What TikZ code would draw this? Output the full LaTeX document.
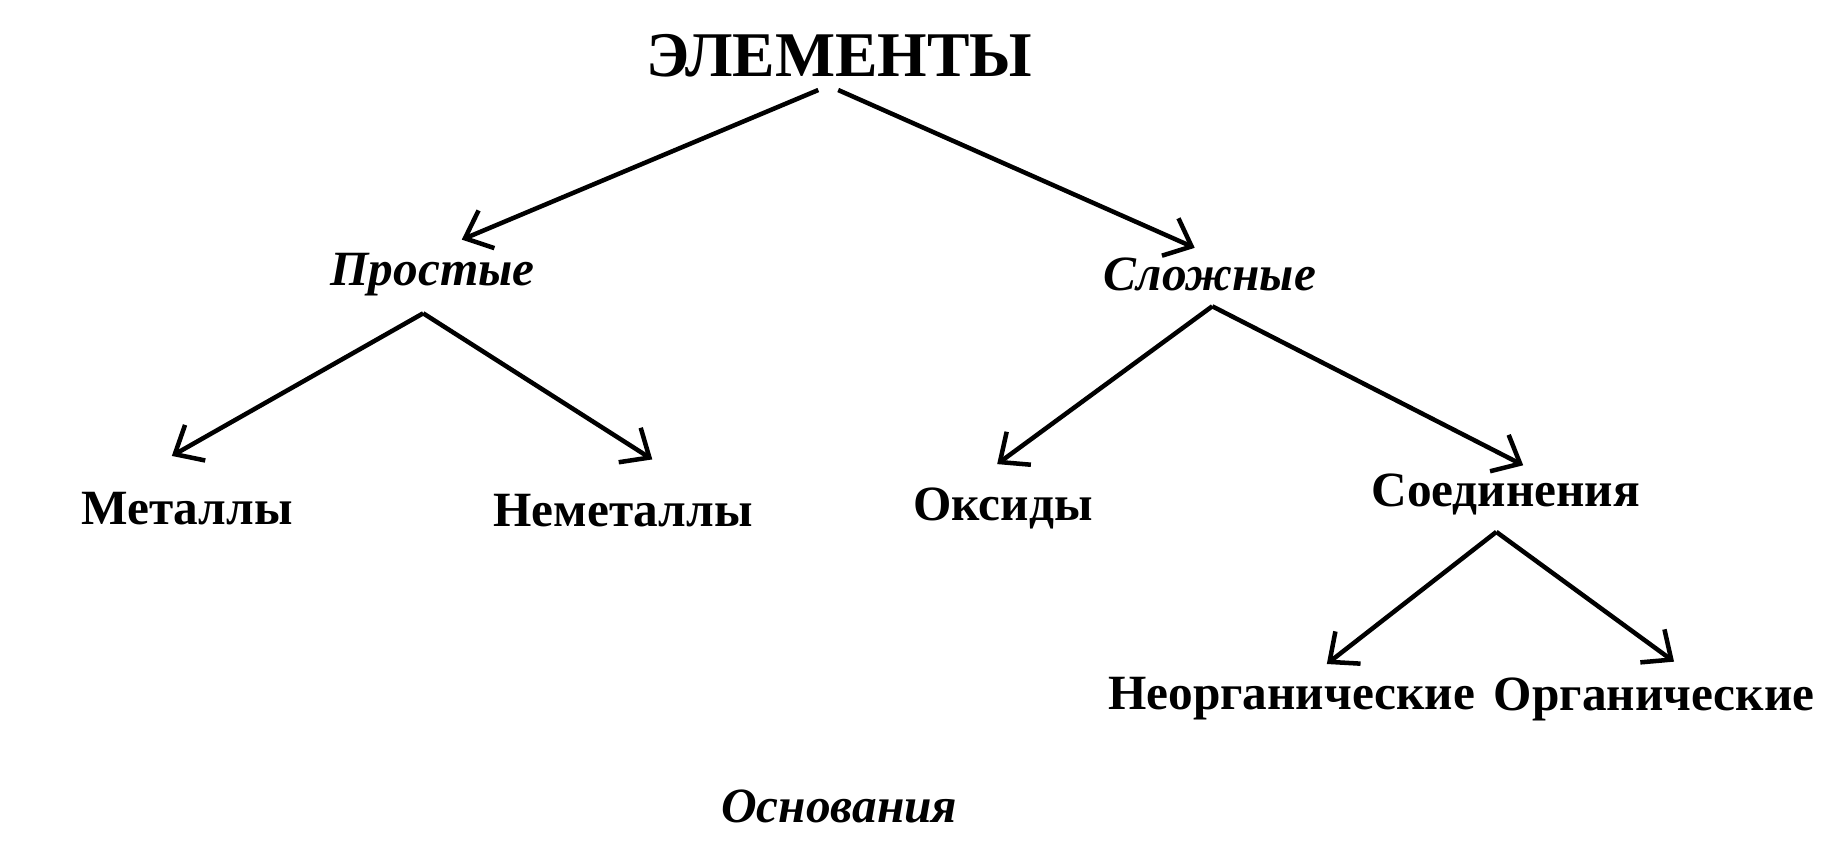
\documentclass[tikz,border=0pt]{standalone}
\usepackage{fontspec}
\setmainfont{Liberation Serif}
\usetikzlibrary{arrows.meta}
\begin{document}
\begin{tikzpicture}[x=0.02cm,y=-0.02cm,
  lbl/.style={font=\bfseries\fontsize{24}{28}\selectfont,inner sep=0pt},
  ilbl/.style={font=\bfseries\itshape\fontsize{24}{28}\selectfont,inner sep=0pt},
  arr/.style={line width=2.2pt,-{Straight Barb[length=4mm,width=7mm,line width=2.2pt]}}]
\fill[white] (0,0) rectangle (1568,734);
\useasboundingbox (0,0) rectangle (1568,734);
\node[lbl,font=\bfseries\fontsize{31}{34}\selectfont] (el) at (718,48) {ЭЛЕМЕНТЫ};
\node[ilbl] (pr) at (370,235) {Простые};
\node[ilbl] (sl) at (1035,235) {Сложные};
\node[lbl] (me) at (160,435) {Металлы};
\node[lbl] (nm) at (533,437) {Неметаллы};
\node[lbl] (ok) at (858,435) {Оксиды};
\node[lbl] (so) at (1288,423) {Соединения};
\node[lbl] (ne) at (1105,598) {Неорганические};
\node[lbl] (or) at (1415,598) {Органические};
\node[ilbl] (os) at (718,690) {Основания};
\coordinate (a1) at (700,77); \coordinate (b1) at (395,205);
\coordinate (a2) at (717,77); \coordinate (b2) at (1022,212);
\coordinate (a3) at (362,268); \coordinate (b3) at (147,390); \coordinate (b4) at (558,393);
\coordinate (a5) at (1037,262); \coordinate (b5) at (853,397); \coordinate (b6) at (1303,398);
\coordinate (a7) at (1280,455); \coordinate (b7) at (1135,568); \coordinate (b8) at (1432,566);
\draw[arr] (a1) -- (b1);
\draw[arr] (a2) -- (b2);
\draw[arr] (a3) -- (b3);
\draw[arr] (a3) -- (b4);
\draw[arr] (a5) -- (b5);
\draw[arr] (a5) -- (b6);
\draw[arr] (a7) -- (b7);
\draw[arr] (a7) -- (b8);
\end{tikzpicture}
\end{document}
